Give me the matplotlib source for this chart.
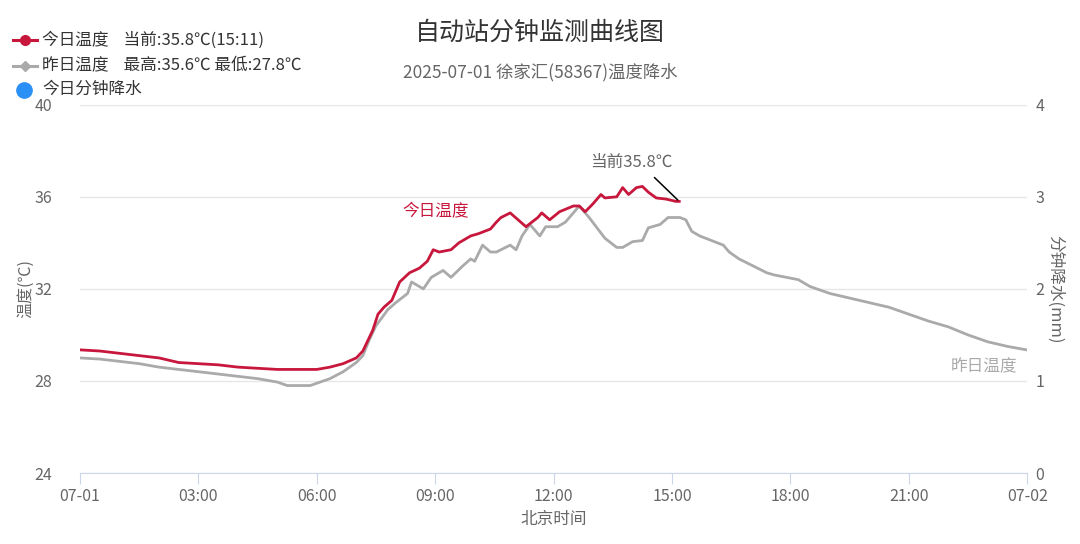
import numpy as np
import matplotlib
matplotlib.use("Agg")
import matplotlib.pyplot as plt
from matplotlib.lines import Line2D

plt.rcParams["font.family"] = ["Noto Sans CJK SC", "DejaVu Sans"]

# ---------- data --------------------------------------------------------
today_time = [
    "00:00", "00:30", "01:00", "01:30", "02:00", "02:30", "03:00", "03:30",
    "04:00", "04:30", "05:00", "05:30", "06:00", "06:20", "06:40", "07:00",
    "07:10", "07:20", "07:25", "07:33", "07:42", "07:54", "08:06", "08:21",
    "08:36", "08:48", "08:57", "09:06", "09:24", "09:36", "09:54", "10:06",
    "10:24", "10:33", "10:40", "10:54", "11:06", "11:18", "11:36", "11:42",
    "11:54", "12:09", "12:30", "12:39", "12:48", "13:00", "13:12", "13:18",
    "13:36", "13:45", "13:54", "14:06", "14:15", "14:24", "14:36", "14:51",
    "15:06", "15:11",
]
today_temp = [
    29.35, 29.3, 29.2, 29.1, 29.0, 28.8, 28.75, 28.7,
    28.6, 28.55, 28.5, 28.5, 28.5, 28.6, 28.75, 29.0,
    29.3, 29.9, 30.2, 30.9, 31.2, 31.5, 32.3, 32.7,
    32.9, 33.2, 33.7, 33.6, 33.7, 34.0, 34.3, 34.4,
    34.6, 34.9, 35.1, 35.3, 35.0, 34.7, 35.1, 35.3,
    35.0, 35.35, 35.6, 35.6, 35.35, 35.7, 36.1, 35.95,
    36.0, 36.4, 36.1, 36.4, 36.45, 36.2, 35.95, 35.9,
    35.8, 35.8,
]

yest_time = [
    "00:00", "00:30", "01:00", "01:30", "02:00", "02:30", "03:00", "03:30",
    "04:00", "04:30", "05:00", "05:15", "05:50", "06:00", "06:20", "06:40",
    "07:00", "07:10", "07:20", "07:30", "07:48", "08:00", "08:18", "08:24",
    "08:42", "08:54", "09:12", "09:24", "09:42", "09:54", "10:00", "10:12",
    "10:24", "10:33", "10:54", "11:03", "11:12", "11:24", "11:39", "11:48",
    "12:06", "12:18", "12:30", "12:39", "12:54", "13:06", "13:18", "13:36",
    "13:45", "14:00", "14:15", "14:24", "14:42", "14:54", "15:12", "15:21",
    "15:30", "15:42", "16:00", "16:18", "16:27", "16:42", "17:03", "17:24",
    "17:36", "17:54", "18:12", "18:30", "19:00", "19:30", "20:00", "20:30",
    "21:00", "21:30", "22:00", "22:30", "23:00", "23:30", "23:59",
]
yest_temp = [
    29.0, 28.95, 28.85, 28.75, 28.6, 28.5, 28.4, 28.3,
    28.2, 28.1, 27.95, 27.8, 27.8, 27.9, 28.1, 28.4,
    28.8, 29.1, 29.8, 30.4, 31.1, 31.4, 31.8, 32.3,
    32.0, 32.5, 32.8, 32.5, 33.0, 33.3, 33.2, 33.9,
    33.6, 33.6, 33.9, 33.7, 34.3, 34.8, 34.3, 34.7,
    34.7, 34.9, 35.3, 35.6, 35.1, 34.65, 34.2, 33.8,
    33.8, 34.05, 34.1, 34.65, 34.8, 35.1, 35.1, 35.0,
    34.5, 34.3, 34.1, 33.9, 33.6, 33.3, 33.0, 32.7,
    32.6, 32.5, 32.4, 32.1, 31.8, 31.6, 31.4, 31.2,
    30.9, 30.6, 30.35, 30.0, 29.7, 29.5, 29.35,
]

xtick_hours = [0, 3, 6, 9, 12, 15, 18, 21, 24]
xtick_labels = ["07-01", "03:00", "06:00", "09:00", "12:00", "15:00",
                "18:00", "21:00", "07-02"]
temp_ticks = [24, 28, 32, 36, 40]
rain_ticks = [0, 1, 2, 3, 4]


def to_hours(times):
    return np.array([int(t[:2]) + int(t[3:]) / 60 for t in times])


RED = "#c8173c"
GRAY = "#aaaaaa"
TXT = "#666666"

fig = plt.figure(figsize=(10.8, 5.44), dpi=100)
ax = fig.add_axes([0.0741, 0.1305, 0.877, 0.677])

ax.plot(to_hours(yest_time), yest_temp, color=GRAY, lw=2.0, zorder=2)
ax.plot(to_hours(today_time), today_temp, color=RED, lw=2.0, zorder=3)

ax.set_xlim(0, 24)
ax.set_ylim(24, 40)
ax.set_xticks(xtick_hours)
ax.set_xticklabels(xtick_labels)
ax.set_yticks(temp_ticks)
ax.grid(axis="y", color="#e6e6e6", lw=1)
for s in ["left", "right", "top"]:
    ax.spines[s].set_visible(False)
ax.spines["bottom"].set_color("#ccd6eb")
ax.tick_params(axis="x", colors="#ccd6eb", length=8, labelcolor=TXT,
               labelsize=11.5, pad=3)
ax.tick_params(axis="y", length=0, labelcolor=TXT, labelsize=11.5, pad=20)
ax.set_xlabel("北京时间", color=TXT, fontsize=12, labelpad=4)
ax.set_ylabel("温度(℃)", color=TXT, fontsize=11.5, labelpad=0)

ax2 = ax.twinx()
ax2.set_ylim(0, 4)
ax2.set_yticks(rain_ticks)
ax2.tick_params(axis="y", length=0, labelcolor=TXT, labelsize=11.5, pad=6)
for s in ["left", "right", "top", "bottom"]:
    ax2.spines[s].set_visible(False)
ax2.set_ylabel("分钟降水(mm)", color=TXT, fontsize=12, rotation=270,
               labelpad=14)

# in-plot labels
ax.text(9.0, 35.35, "今日温度", color=RED, fontsize=12, ha="center",
        va="center", zorder=4)
ax.text(13.97, 37.48, "当前35.8℃", color=TXT, fontsize=12, ha="center",
        va="center")
ax.plot([14.56, 15.14], [36.83, 35.87], color="black", lw=1.1, zorder=4)
ax.text(23.75, 28.6, "昨日温度", color=GRAY, fontsize=12, ha="right",
        va="center")

# titles
fig.text(0.5, 0.94, "自动站分钟监测曲线图", ha="center", va="center",
         fontsize=18, color="#333333")
fig.text(0.5, 0.868, "2025-07-01 徐家汇(58367)温度降水", ha="center",
         va="center", fontsize=12.5, color=TXT)

# legend (top-left)
rows = [0.926, 0.879, 0.835]
fig.add_artist(Line2D([0.012, 0.034], [rows[0]] * 2, color=RED, lw=2.2,
                      transform=fig.transFigure))
fig.add_artist(Line2D([0.023], [rows[0]], marker="o", color=RED, ms=7,
                      transform=fig.transFigure))
fig.add_artist(Line2D([0.012, 0.034], [rows[1]] * 2, color=GRAY, lw=2.2,
                      transform=fig.transFigure))
fig.add_artist(Line2D([0.023], [rows[1]], marker="D", color=GRAY, ms=5,
                      transform=fig.transFigure))
fig.add_artist(Line2D([0.022], [rows[2]], marker="o", color="#2b90f5", ms=11,
                      transform=fig.transFigure))
fig.text(0.039, rows[0], "今日温度    当前:35.8℃(15:11)", fontsize=12,
         color="#333333", va="center")
fig.text(0.039, rows[1], "昨日温度    最高:35.6℃ 最低:27.8℃", fontsize=12,
         color="#333333", va="center")
fig.text(0.039, rows[2], "今日分钟降水", fontsize=12, color="#333333",
         va="center")

fig.savefig("out.png", dpi=100, facecolor="white")
